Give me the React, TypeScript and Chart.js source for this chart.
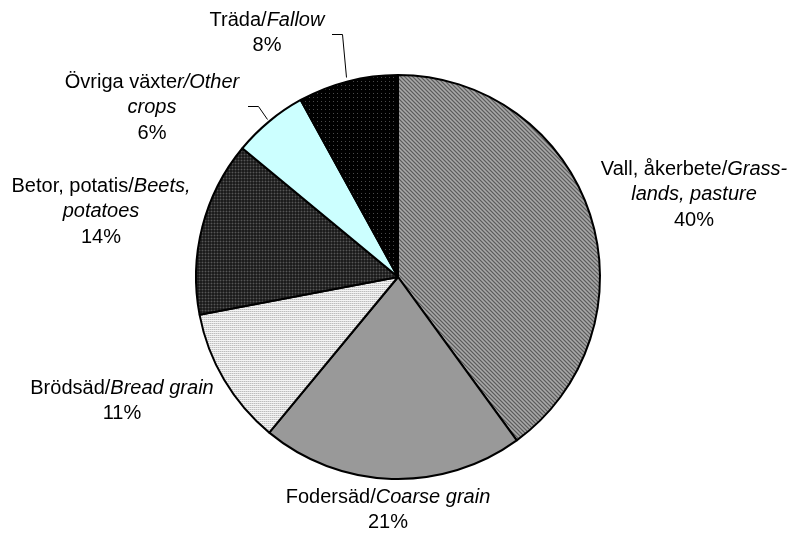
import React, { useEffect, useRef } from "react";
import { Chart, registerables } from "chart.js";

Chart.register(...registerables);

// ---- Data ----
const categories: string[] = [
  "Vall, åkerbete/Grasslands, pasture",
  "Fodersäd/Coarse grain",
  "Brödsäd/Bread grain",
  "Betor, potatis/Beets, potatoes",
  "Övriga växter/Other crops",
  "Träda/Fallow",
];
const shares: number[] = [40, 21, 11, 14, 6, 8];
const percentLabels: string[] = ["40%", "21%", "11%", "14%", "6%", "8%"];

// Label text lines: [text, italic] segments per line (percentage appended as last line)
const labelLines: [string, boolean][][][] = [
  [[["Vall, åkerbete/", false], ["Grass-", true]], [["lands, pasture", true]]],
  [[["Fodersäd/", false], ["Coarse grain", true]]],
  [[["Brödsäd/", false], ["Bread grain", true]]],
  [[["Betor, potatis/", false], ["Beets,", true]], [["potatoes", true]]],
  [[["Övriga växte", false], ["r/Other", true]], [["crops", true]]],
  [[["Träda/", false], ["Fallow", true]]],
];

// ---- Layout (styling, not data) ----
const labelLayout = [
  { x: 694, y: 169 },
  { x: 388, y: 497 },
  { x: 122, y: 388 },
  { x: 101, y: 186 },
  { x: 152, y: 82 },
  { x: 267, y: 20 },
];
const leaderLines: { [k: number]: number[][] } = {
  4: [[248, 106], [258, 106], [267, 119]],
  5: [[332, 34], [342, 34], [346, 77]],
};

function makePattern(
  size: number,
  painter: (x: number, y: number) => string
): CanvasPattern | string {
  const c = document.createElement("canvas");
  c.width = size;
  c.height = size;
  const g = c.getContext("2d");
  if (!g) return "#888";
  for (let y = 0; y < size; y++) {
    for (let x = 0; x < size; x++) {
      g.fillStyle = painter(x, y);
      g.fillRect(x, y, 1, 1);
    }
  }
  const p = g.createPattern(c, "repeat");
  return p || "#888";
}

export default function App() {
  const ref = useRef<HTMLCanvasElement | null>(null);

  useEffect(() => {
    const canvas = ref.current;
    if (!canvas) return;

    const vallPat = makePattern(4, (x, y) => {
      const d = (((x - y) % 4) + 4) % 4;
      if (d === 0) return "#5c5c5c";
      if (d === 2) return "#a8a8a8";
      return (x + y) % 2 === 0 ? "#7a7a7a" : "#8c8c8c";
    });
    const brodPat = makePattern(2, (x, y) =>
      y === 0 ? "#f4f4f4" : x === 0 ? "#bdbdbd" : "#dadada"
    );
    const betorPat = makePattern(3, (x, y) =>
      x === 1 && y === 1 ? "#555555" : x === 1 || y === 1 ? "#303030" : "#1c1c1c"
    );
    const tradaPat = makePattern(4, (x, y) =>
      x === 1 && y === 1 ? "#4a4a4a" : "#000000"
    );

    const fills = [vallPat, "#999999", brodPat, betorPat, "#ccffff", tradaPat];

    const FONT = "Liberation Sans, Arial, sans-serif";
    const SIZE = 20;
    const LINE_H = 25.5;

    const labelPlugin = {
      id: "pieLabels",
      afterDraw(chart: any) {
        const ctx: CanvasRenderingContext2D = chart.ctx;
        ctx.save();
        ctx.fillStyle = "#000";
        ctx.textBaseline = "middle";
        ctx.textAlign = "left";
        labelLayout.forEach((pos, i) => {
          const lines = [...labelLines[i], [[percentLabels[i], false]] as [string, boolean][]];
          lines.forEach((segs, li) => {
            let total = 0;
            const widths = segs.map(([t, it]) => {
              ctx.font = `${it ? "italic " : ""}${SIZE}px ${FONT}`;
              const w = ctx.measureText(t).width;
              total += w;
              return w;
            });
            let x = pos.x - total / 2;
            const y = pos.y + li * LINE_H;
            segs.forEach(([t, it], si) => {
              ctx.font = `${it ? "italic " : ""}${SIZE}px ${FONT}`;
              ctx.fillText(t, x, y);
              x += widths[si];
            });
          });
        });
        ctx.strokeStyle = "#000";
        ctx.lineWidth = 1;
        Object.keys(leaderLines).forEach((k) => {
          const pts = leaderLines[+k];
          ctx.beginPath();
          pts.forEach(([px, py], j) => {
            if (j === 0) ctx.moveTo(px, py + 0.5);
            else ctx.lineTo(px + 0.5, py + 0.5);
          });
          ctx.stroke();
        });
        ctx.restore();
      },
    };

    const chart = new Chart(canvas, {
      type: "pie",
      data: {
        labels: categories,
        datasets: [
          {
            data: shares,
            backgroundColor: fills as any,
            borderColor: "#000000",
            borderWidth: 2,
            borderAlign: "center",
          },
        ],
      },
      options: {
        responsive: false,
        animation: false,
        radius: 202,
        layout: { padding: { left: 6, right: 0, top: 19, bottom: 0 } },
        plugins: {
          legend: { display: false },
          tooltip: { enabled: false },
        },
      } as any,
      plugins: [labelPlugin],
    });

    return () => chart.destroy();
  }, []);

  return (
    <div
      style={{
        position: "fixed",
        left: 0,
        top: 0,
        width: 790,
        height: 535,
        background: "#fff",
      }}
    >
      <canvas ref={ref} width={790} height={535} />
    </div>
  );
}
